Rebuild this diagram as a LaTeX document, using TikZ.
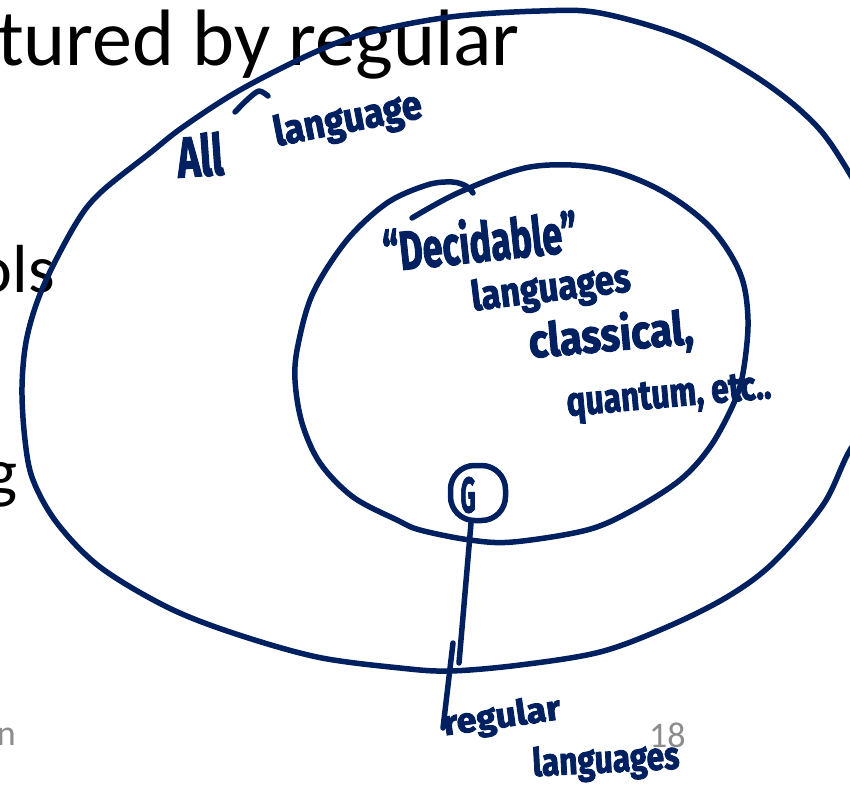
\documentclass[tikz,border=0pt]{standalone}
\usepackage{fontspec}
\usepackage{graphicx}
\setmainfont{Carlito}
\newfontfamily\handfont{Fira Sans}[BoldFeatures={FakeBold=2.5}]
\definecolor{ink}{HTML}{002060}
\definecolor{slidegray}{HTML}{8C8C8C}
% handwritten word: width, total height, text
\newcommand\hw[3]{\resizebox*{#1pt}{#2pt}{\handfont\bfseries #3}}
\begin{document}
\begin{tikzpicture}[x=1pt,y=-1pt,
  inkline/.style={draw=ink,line width=5.5pt,line cap=round,line join=round},
  hand/.style={text=ink,inner sep=0pt},
  slide/.style={text=black,inner sep=0pt},
  foot/.style={text=slidegray,inner sep=0pt},
  gbox/.style={inkline,rounded corners=24pt,minimum width=55pt,minimum height=55pt,inner sep=0pt}]
\fill[white] (0,0) rectangle (850,786);
\useasboundingbox (0,0) rectangle (850,786);
\clip (0,0) rectangle (850,786);

% slide text behind the ink
\node[slide,anchor=base west] (title) at (-3,66) {\fontsize{80}{84}\selectfont tured by regular};
\node[slide,anchor=base east] (ols) at (55,292) {\fontsize{68}{72}\selectfont ols};
\node[slide,anchor=base east] (gtail) at (18,495) {\fontsize{68}{72}\selectfont g};
\node[foot,anchor=base east] (nfoot) at (16,745) {\fontsize{36}{40}\selectfont n};
\node[foot,anchor=base west] (page) at (649,747) {\fontsize{36}{40}\selectfont 18};

% outer set: all languages (runs past the right edge)
\draw[inkline] plot[smooth cycle,tension=0.55] coordinates {
  (100,193) (150,153) (183,127) (240,90) (313,53) (367,33) (450,17) (540,11)
  (600,13) (683,37) (750,73) (800,110) (835,150) (885,240) (905,320) (885,400)
  (850,450) (823,505) (773,563) (727,597) (667,627) (600,652) (520,665)
  (450,671) (400,668) (317,657) (233,633) (167,607) (100,567) (57,523)
  (33,480) (25,440) (22,387) (27,337) (43,287) (75,225)};
\draw[inkline] plot[smooth,tension=0.5] coordinates {(235,112) (248,99) (259,91) (268,96)};

% inner set: decidable languages
\draw[inkline] plot[smooth,tension=0.55] coordinates {
  (412,218) (460,192) (530,167) (600,168) (660,190) (710,227) (740,273)
  (748,320) (743,373) (733,405) (710,447) (680,480) (633,510) (587,530)
  (513,542) (470,540) (420,530) (397,520) (353,497) (320,463) (302,423)
  (295,380) (298,345) (313,293) (347,240) (387,203) (427,185) (452,182)
  (466,186) (473,193)};

% regular languages
\node[gbox] (gcirc) at (478,493) {};
\node[hand] (glabel) at (468,495) {\hw{15}{36}{G}};
\coordinate (ptr) at (459,663);
\draw[inkline] ([xshift=-7pt]gcirc.south) -- (ptr);
\coordinate (stemtop) at (453,643);
\coordinate (stembot) at (443,728);
\draw[inkline] (stemtop) -- (stembot);

% handwritten labels
\node[hand,rotate=4] (all) at (200,155) {\hw{46}{44}{All}};
\node[hand,rotate=11] (lang1) at (348,121) {\hw{150}{40}{language}};
\node[hand,rotate=6] (dec) at (480,240) {\hw{195}{45}{“Decidable”}};
\node[hand,rotate=7] (lang2) at (551,290) {\hw{160}{40}{languages}};
\node[hand,rotate=5] (classical) at (611,336) {\hw{165}{46}{classical,}};
\node[hand,rotate=5] (quantum) at (669,398) {\hw{205}{36}{quantum, etc..}};
\node[hand,rotate=8] (reg) at (502,718) {\hw{118}{34}{regular}};
\node[hand,rotate=3] (lang3) at (606,762) {\hw{147}{38}{languages}};
\end{tikzpicture}
\end{document}
